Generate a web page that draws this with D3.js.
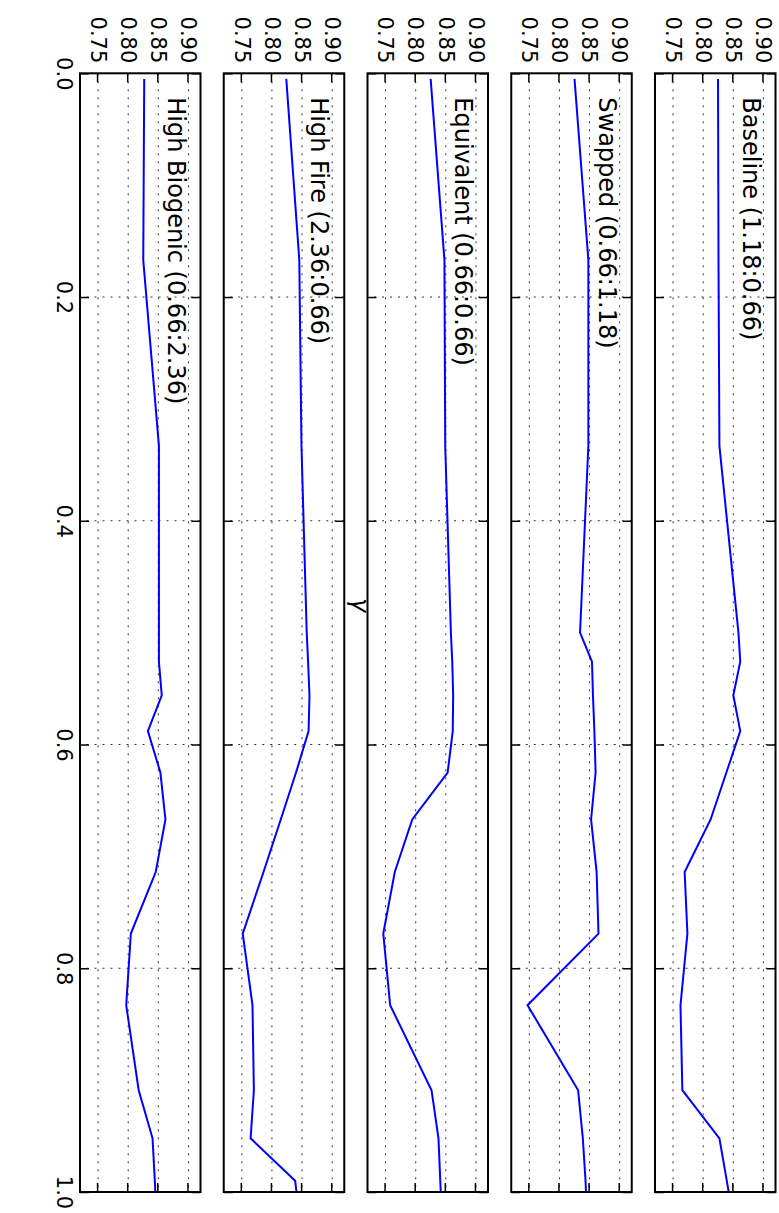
<!DOCTYPE html>
<html>
<head>
<meta charset="utf-8">
<script src="https://cdn.jsdelivr.net/npm/d3@7"></script>
<style>
  body { margin: 0; background: #fff; }
  svg { display: block; }
</style>
</head>
<body>
<div id="chart"></div>
<script>
// gamma sample points (shared by all panels)
var gammas = [0.005, 0.167, 0.333, 0.5, 0.526, 0.556, 0.588, 0.625, 0.667, 0.714, 0.769, 0.833, 0.909, 0.952, 0.99, 1.0];

var panelNames = ["Baseline (1.18:0.66)", "Swapped (0.66:1.18)", "Equivalent (0.66:0.66)",
                  "High Fire (2.36:0.66)", "High Biogenic (0.66:2.36)"];

var baseline   = [0.8246, 0.8254, 0.8269, 0.8585, 0.8615, 0.8500, 0.8615, 0.8385, 0.8123, 0.7692, 0.7738, 0.7623, 0.7654, 0.8269, 0.8392, 0.8423];
var swapped    = [0.8250, 0.8480, 0.8480, 0.8342, 0.8540, 0.8556, 0.8580, 0.8600, 0.8525, 0.8617, 0.8648, 0.7470, 0.8310, 0.8388, 0.8433, 0.8440];
var equivalent = [0.8248, 0.8477, 0.8490, 0.8584, 0.8607, 0.8622, 0.8615, 0.8530, 0.7943, 0.7653, 0.7462, 0.7576, 0.8263, 0.8378, 0.8408, 0.8416];
var highFire   = [0.8238, 0.8454, 0.8490, 0.8577, 0.8600, 0.8623, 0.8608, 0.8400, 0.8146, 0.7860, 0.7515, 0.7677, 0.7700, 0.7646, 0.8385, 0.8408];
var highBio    = [0.8266, 0.8250, 0.8510, 0.8510, 0.8510, 0.8557, 0.8327, 0.8534, 0.8618, 0.8457, 0.8044, 0.7967, 0.8174, 0.8404, 0.8442, 0.8450];

var series = [baseline, swapped, equivalent, highFire, highBio];

var xTicks = [0, 0.2, 0.4, 0.6, 0.8, 1.0];
var yTicks = [0.75, 0.80, 0.85, 0.90];

// the figure is drawn in landscape and turned a quarter clockwise
var W = 1213, H = 779;
var font = "'DejaVu Sans', sans-serif";

var svg = d3.select("#chart").append("svg")
            .attr("width", H)
            .attr("height", W);

var fig = svg.append("g")
             .attr("transform", "translate(" + H + ",0) rotate(90)");

var x = d3.scaleLinear().domain([0, 1]).range([73.3, 1192]);

var panelH = 120.5;
var panelStep = 143.75;
var firstTop = 3.5;

series.forEach(function(values, i) {
  var pTop = firstTop + i * panelStep;
  var y = d3.scaleLinear().domain([0.72, 0.92]).range([pTop + panelH, pTop]);
  var g = fig.append("g");

  // dotted grid
  g.selectAll("line.vgrid").data(xTicks.slice(1, -1)).enter().append("line")
    .attr("x1", function(d) { return x(d); })
    .attr("x2", function(d) { return x(d); })
    .attr("y1", pTop).attr("y2", pTop + panelH)
    .attr("stroke", "#333").attr("stroke-width", 1)
    .attr("stroke-dasharray", "2,6");
  g.selectAll("line.hgrid").data(yTicks).enter().append("line")
    .attr("x1", x(0)).attr("x2", x(1))
    .attr("y1", function(d) { return y(d); })
    .attr("y2", function(d) { return y(d); })
    .attr("stroke", "#333").attr("stroke-width", 1)
    .attr("stroke-dasharray", "2,6");

  // data line
  var line = d3.line()
               .x(function(d, k) { return x(gammas[k]); })
               .y(function(d) { return y(d); });
  g.append("path")
    .datum(values)
    .attr("d", line)
    .attr("fill", "none")
    .attr("stroke", "#0000ff")
    .attr("stroke-width", 2);

  // ticks on all four sides, pointing inward
  var left = g.append("g").attr("transform", "translate(" + x(0) + ",0)")
    .call(d3.axisLeft(y).tickValues(yTicks).tickSize(-9).tickPadding(10)
            .tickFormat(d3.format(".2f")));
  var right = g.append("g").attr("transform", "translate(" + x(1) + ",0)")
    .call(d3.axisRight(y).tickValues(yTicks).tickSize(-9).tickFormat(""));
  var topAx = g.append("g").attr("transform", "translate(0," + pTop + ")")
    .call(d3.axisTop(x).tickValues(xTicks).tickSize(-9).tickFormat(""));
  var bottom = g.append("g").attr("transform", "translate(0," + (pTop + panelH) + ")")
    .call(d3.axisBottom(x).tickValues(xTicks).tickSize(-9).tickPadding(8)
            .tickFormat(i == series.length - 1 ? d3.format(".1f") : ""));

  [left, right, topAx, bottom].forEach(function(a) {
    a.select(".domain").remove();
    a.selectAll(".tick line").attr("stroke", "#000").attr("stroke-width", 1.5);
    a.selectAll("text").attr("font-family", font).attr("font-size", 21).attr("fill", "#000");
  });

  // frame
  g.append("rect")
    .attr("x", x(0)).attr("y", pTop)
    .attr("width", x(1) - x(0)).attr("height", panelH)
    .attr("fill", "none").attr("stroke", "#000").attr("stroke-width", 2);

  g.append("text")
    .attr("x", x(0) + 24)
    .attr("y", pTop + 33)
    .attr("font-family", font)
    .attr("font-size", 24)
    .text(panelNames[i]);
});

// x label sits in the gap under the middle panel
fig.append("text")
  .attr("x", 605)
  .attr("y", firstTop + 2 * panelStep + panelH + 16)
  .attr("text-anchor", "middle")
  .attr("font-family", font)
  .attr("font-style", "italic")
  .attr("font-size", 24)
  .text("γ");
</script>
</body>
</html>
